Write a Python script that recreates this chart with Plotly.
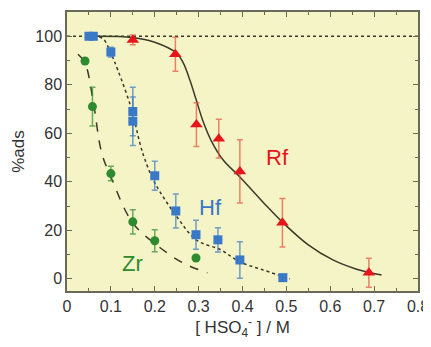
import plotly.graph_objects as go

# Data
rf_x = [0.15, 0.247, 0.295, 0.346, 0.394, 0.491, 0.688]
rf_y = [98.5, 92.6, 63.6, 57.8, 44.3, 23.1, 2.5]
rf_err = [2, 7, 9, 8, 13, 10, 6]

hf_x = [0.05, 0.06, 0.10, 0.15, 0.15, 0.20, 0.248, 0.294, 0.344, 0.394, 0.492]
hf_y = [100, 100, 93.5, 69, 65, 42.5, 28, 18.2, 16.1, 7.8, 0.5]
hf_err = [0, 0, 2, 10, 10, 6, 7, 6, 5, 7.5, 0]

zr_x = [0.041, 0.058, 0.10, 0.15, 0.20, 0.294]
zr_y = [89.8, 71, 43.4, 23.5, 15.7, 8.6]
zr_err = [1, 8, 3, 5, 4.5, 1]

# Fitted curves
rf_fit_x = [0.05, 0.15, 0.20, 0.25, 0.265, 0.28, 0.295, 0.31, 0.33, 0.356, 0.394, 0.45, 0.489, 0.55, 0.606, 0.66, 0.717]
rf_fit_y = [100, 99.5, 97.5, 93, 89, 82, 73.5, 65, 56.5, 49, 42, 31, 23.7, 14, 7.8, 4, 1.6]

hf_fit_x = [0.06, 0.082, 0.10, 0.116, 0.147, 0.166, 0.178, 0.20, 0.25, 0.295, 0.35, 0.394, 0.45, 0.508]
hf_fit_y = [100, 99, 93, 86, 70, 56, 49, 39.6, 25.7, 16, 12, 7, 3.5, 0]

zr_fit_x = [0.025, 0.041, 0.059, 0.079, 0.10, 0.15, 0.204, 0.264, 0.32]
zr_fit_y = [92.6, 89, 74, 52, 42, 23, 14, 6.6, 2.5]

tick_vals_x = [0, 0.1, 0.2, 0.3, 0.4, 0.5, 0.6, 0.7, 0.8]
tick_text_x = ["0", "0.1", "0.2", "0.3", "0.4", "0.5", "0.6", "0.7", "0.8"]
tick_vals_y = [0, 20, 40, 60, 80, 100]

line_col = "#3a3a28"
red = "#e8141c"
blue = "#3a78c8"
green = "#2e8a2e"

fig = go.Figure()

# 100% reference line
fig.add_trace(go.Scatter(x=[0, 0.8], y=[100, 100], mode="lines",
                         line=dict(color=line_col, width=1.5, dash="dot"), showlegend=False))

fig.add_trace(go.Scatter(x=rf_fit_x, y=rf_fit_y, mode="lines", line_shape="spline",
                         line=dict(color=line_col, width=1.5), showlegend=False))
fig.add_trace(go.Scatter(x=hf_fit_x, y=hf_fit_y, mode="lines", line_shape="spline",
                         line=dict(color=line_col, width=1.5, dash="dot"), showlegend=False))
fig.add_trace(go.Scatter(x=zr_fit_x, y=zr_fit_y, mode="lines", line_shape="spline",
                         line=dict(color=line_col, width=1.5, dash="dash"), showlegend=False))

fig.add_trace(go.Scatter(x=rf_x, y=rf_y, mode="markers",
                         marker=dict(symbol="triangle-up", size=11, color=red),
                         error_y=dict(type="data", array=rf_err, color="rgba(232,80,60,0.7)", thickness=1.5, width=3),
                         showlegend=False))
fig.add_trace(go.Scatter(x=hf_x, y=hf_y, mode="markers",
                         marker=dict(symbol="square", size=9, color=blue),
                         error_y=dict(type="data", array=hf_err, color="rgba(58,120,200,0.7)", thickness=1.5, width=3),
                         showlegend=False))
fig.add_trace(go.Scatter(x=zr_x, y=zr_y, mode="markers",
                         marker=dict(symbol="circle", size=9, color=green),
                         error_y=dict(type="data", array=zr_err, color="rgba(46,138,46,0.7)", thickness=1.5, width=3),
                         showlegend=False))

fig.add_annotation(x=0.48, y=50, text="Rf", showarrow=False, font=dict(size=22, color=red))
fig.add_annotation(x=0.328, y=29.3, text="Hf", showarrow=False, font=dict(size=22, color=blue))
fig.add_annotation(x=0.149, y=6.5, text="Zr", showarrow=False, font=dict(size=22, color=green))

axis_common = dict(showgrid=False, zeroline=False, showline=True, linecolor="#6a6a5a", linewidth=1.5,
                   mirror="ticks", ticks="inside", ticklen=5, tickcolor="#6a6a5a",
                   tickfont=dict(size=16, color="#333"), automargin=False)

fig.update_xaxes(range=[0, 0.8], tickvals=tick_vals_x, ticktext=tick_text_x,
                 minor=dict(dtick=0.05, ticks="inside", ticklen=3, tickcolor="#6a6a5a"),
                 title=dict(text="[ HSO<sub>4</sub><sup>-</sup> ] / M", font=dict(size=17, color="#333"), standoff=4),
                 **axis_common)
fig.update_yaxes(range=[-5, 110], tickvals=tick_vals_y,
                 minor=dict(dtick=10, ticks="inside", ticklen=3, tickcolor="#6a6a5a"),
                 title=dict(text="%ads", font=dict(size=17, color="#333"), standoff=6),
                 **axis_common)

# page body has an 8px default margin, so the figure is sized to fit the window
fig.update_layout(width=423, height=339, margin=dict(l=59, r=13, t=4, b=56),
                  plot_bgcolor="#f4f4c6", paper_bgcolor="white",
                  font=dict(family="Arial, Liberation Sans, sans-serif"))

fig.write_html("out.html")
